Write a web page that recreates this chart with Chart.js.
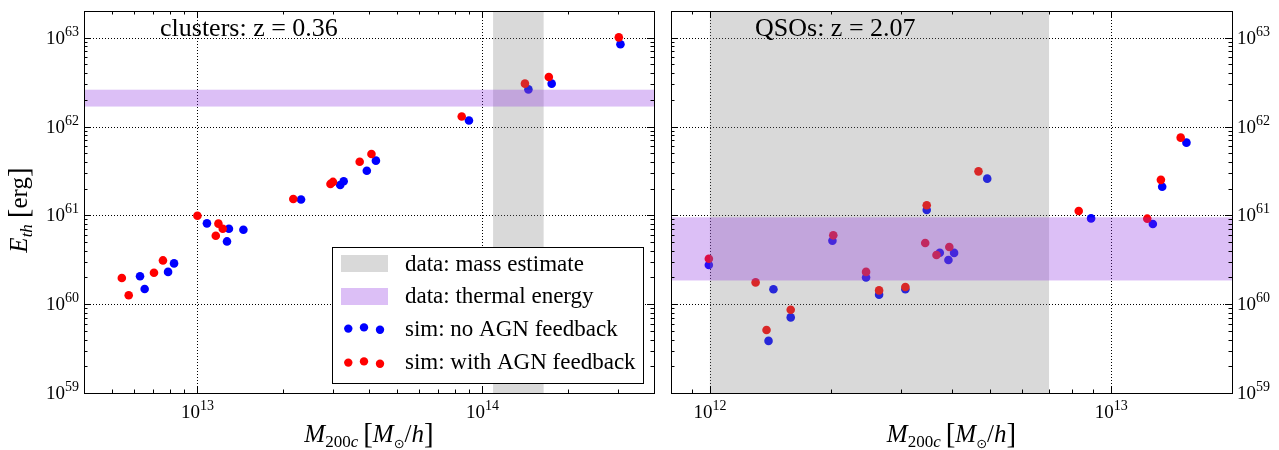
<!DOCTYPE html>
<html lang="en">
<head>
  <meta charset="UTF-8">
  <title>Thermal energy vs halo mass</title>
  <script src="https://cdn.jsdelivr.net/npm/chart.js"></script>
  <style>
    * { margin: 0; padding: 0; box-sizing: border-box; }
    body { background: #ffffff; width: 1279px; height: 450px; overflow: hidden; }
    #clusterChart { position: absolute; left: 0; top: 0; }
    #qsoChart { position: absolute; left: 660px; top: 0; }
  </style>
</head>
<body>
  <canvas id="clusterChart" width="660" height="450"></canvas>
  <canvas id="qsoChart" width="619" height="450"></canvas>

  <script>
    // clusters, z = 0.36
    const clusterMassAgn = [5.43e12, 5.74e12, 7.04e12, 7.57e12, 1.0e13, 1.185e13, 1.16e13, 1.227e13, 2.17e13, 2.93e13, 2.99e13, 3.71e13, 4.08e13, 8.46e13, 1.41e14, 1.71e14, 3.01e14];
    const clusterEnergyAgn = [1.97e60, 1.26e60, 2.26e60, 3.11e60, 9.9e60, 8.07e60, 5.9e60, 7.08e60, 1.53e61, 2.26e61, 2.38e61, 4.02e61, 4.91e61, 1.30e62, 3.04e62, 3.62e62, 1.01e63];
    const clusterMassNoAgn = [6.29e12, 6.53e12, 7.89e12, 8.28e12, 1.08e13, 1.29e13, 1.27e13, 1.45e13, 2.31e13, 3.17e13, 3.26e13, 3.93e13, 4.23e13, 8.97e13, 1.45e14, 1.75e14, 3.05e14];
    const clusterEnergyNoAgn = [2.06e60, 1.48e60, 2.31e60, 2.88e60, 8.13e60, 7.08e60, 5.09e60, 6.9e60, 1.51e61, 2.2e61, 2.42e61, 3.18e61, 4.13e61, 1.17e62, 2.62e62, 3.04e62, 8.44e62];
    const clusterMassBand = [1.09e14, 1.64e14];
    const clusterEnergyBand = [1.68e62, 2.6e62];
    const clusterMassRange = [4e12, 4e14];

    // QSOs, z = 2.07
    const qsoMassAgn = [0.994e12, 1.30e12, 1.384e12, 1.59e12, 2.03e12, 2.45e12, 2.64e12, 3.07e12, 3.47e12, 3.44e12, 3.67e12, 3.95e12, 4.67e12, 8.3e12, 1.23e13, 1.33e13, 1.49e13];
    const qsoEnergyAgn = [3.25e60, 1.76e60, 5.12e59, 8.67e59, 5.96e60, 2.31e60, 1.43e60, 1.56e60, 1.30e61, 4.89e60, 3.58e60, 4.41e60, 3.13e61, 1.12e61, 9.18e60, 2.51e61, 7.5e61];
    const qsoMassNoAgn = [0.994e12, 1.44e12, 1.40e12, 1.59e12, 2.02e12, 2.45e12, 2.64e12, 3.07e12, 3.47e12, 3.74e12, 3.93e12, 4.06e12, 4.91e12, 8.91e12, 1.27e13, 1.34e13, 1.54e13];
    const qsoEnergyNoAgn = [2.76e60, 1.47e60, 3.86e59, 7.1e59, 5.19e60, 2.0e60, 1.28e60, 1.47e60, 1.15e61, 3.8e60, 3.15e60, 3.78e60, 2.59e61, 9.25e60, 8.0e60, 2.10e61, 6.59e61];
    const qsoMassBand = [1e12, 7e12];
    const qsoEnergyBand = [1.85e60, 9.5e60];
    const qsoMassRange = [8e11, 2e13];

    const energyRange = [1e59, 2e63];
    const legendLabels = ['data: mass estimate', 'data: thermal energy', 'sim: no AGN feedback', 'sim: with AGN feedback'];

    const SERIF = '"Liberation Serif", "DejaVu Serif", serif';

    function toPoints(xs, ys) {
      return xs.map((x, i) => ({ x: x, y: ys[i] }));
    }

    function richWidth(ctx, parts) {
      let w = 0;
      parts.forEach(p => { ctx.font = p.font; w += ctx.measureText(p.t).width + (p.gap || 0); });
      return w;
    }

    function drawRich(ctx, parts, x, y, align) {
      const w = richWidth(ctx, parts);
      let cx = align === 'center' ? x - w / 2 : (align === 'right' ? x - w : x);
      ctx.textAlign = 'left';
      ctx.textBaseline = 'alphabetic';
      parts.forEach(p => {
        ctx.font = p.font;
        ctx.fillText(p.t, cx, y + (p.dy || 0));
        cx += ctx.measureText(p.t).width + (p.gap || 0);
      });
    }

    function powParts(e) {
      return [
        { t: '10', font: '19px ' + SERIF },
        { t: String(e), font: '14px ' + SERIF, dy: -8 }
      ];
    }

    function logTicks(min, max) {
      const major = [], minor = [];
      for (let e = Math.floor(Math.log10(min)); e <= Math.ceil(Math.log10(max)); e++) {
        for (let k = 1; k < 10; k++) {
          const v = k * Math.pow(10, e);
          if (v < min * 0.9999 || v > max * 1.0001) continue;
          if (k === 1) major.push(e); else minor.push(v);
        }
      }
      return { major, minor };
    }

    function panelPlugin(opts) {
      return {
        id: 'panel',
        beforeDatasetsDraw(chart) {
          const ctx = chart.ctx, a = chart.chartArea;
          const xs = chart.scales.x, ys = chart.scales.y;
          ctx.save();
          ctx.strokeStyle = '#000';
          ctx.lineWidth = 1;
          ctx.setLineDash([1, 2]);
          logTicks(xs.min, xs.max).major.forEach(e => {
            const px = Math.round(xs.getPixelForValue(Math.pow(10, e))) + 0.5;
            ctx.beginPath(); ctx.moveTo(px, a.top); ctx.lineTo(px, a.bottom); ctx.stroke();
          });
          logTicks(ys.min, ys.max).major.forEach(e => {
            const py = Math.round(ys.getPixelForValue(Math.pow(10, e))) + 0.5;
            ctx.beginPath(); ctx.moveTo(a.left, py); ctx.lineTo(a.right, py); ctx.stroke();
          });
          ctx.restore();
        },
        afterDatasetsDraw(chart) {
          const ctx = chart.ctx, a = chart.chartArea;
          const xs = chart.scales.x, ys = chart.scales.y;
          ctx.save();
          ctx.beginPath(); ctx.rect(a.left, a.top, a.right - a.left, a.bottom - a.top); ctx.clip();
          const x0 = xs.getPixelForValue(opts.massBand[0]), x1 = xs.getPixelForValue(opts.massBand[1]);
          ctx.fillStyle = 'rgba(128,128,128,0.3)';
          ctx.fillRect(x0, a.top, x1 - x0, a.bottom - a.top);
          const y0 = ys.getPixelForValue(opts.energyBand[1]), y1 = ys.getPixelForValue(opts.energyBand[0]);
          ctx.fillStyle = 'rgba(138,43,226,0.3)';
          ctx.fillRect(a.left, y0, a.right - a.left, y1 - y0);
          ctx.restore();
        },
        afterDraw(chart) {
          const ctx = chart.ctx, a = chart.chartArea;
          const xs = chart.scales.x, ys = chart.scales.y;
          ctx.save();
          ctx.fillStyle = '#000';
          ctx.strokeStyle = '#000';
          ctx.lineWidth = 1;
          // frame
          ctx.strokeRect(Math.round(a.left) + 0.5, Math.round(a.top) + 0.5, Math.round(a.right - a.left), Math.round(a.bottom - a.top));
          // ticks, inward on all four sides
          const xt = logTicks(xs.min, xs.max);
          ctx.beginPath();
          xt.major.forEach(e => {
            const px = Math.round(xs.getPixelForValue(Math.pow(10, e))) + 0.5;
            ctx.moveTo(px, a.bottom); ctx.lineTo(px, a.bottom - 7);
            ctx.moveTo(px, a.top); ctx.lineTo(px, a.top + 7);
          });
          xt.minor.forEach(v => {
            const px = Math.round(xs.getPixelForValue(v)) + 0.5;
            ctx.moveTo(px, a.bottom); ctx.lineTo(px, a.bottom - 3.5);
            ctx.moveTo(px, a.top); ctx.lineTo(px, a.top + 3.5);
          });
          const yt = logTicks(ys.min, ys.max);
          yt.major.forEach(e => {
            const py = Math.round(ys.getPixelForValue(Math.pow(10, e))) + 0.5;
            ctx.moveTo(a.left, py); ctx.lineTo(a.left + 7, py);
            ctx.moveTo(a.right, py); ctx.lineTo(a.right - 7, py);
          });
          yt.minor.forEach(v => {
            const py = Math.round(ys.getPixelForValue(v)) + 0.5;
            ctx.moveTo(a.left, py); ctx.lineTo(a.left + 3.5, py);
            ctx.moveTo(a.right, py); ctx.lineTo(a.right - 3.5, py);
          });
          ctx.stroke();

          // tick labels
          xt.major.forEach(e => {
            drawRich(ctx, powParts(e), xs.getPixelForValue(Math.pow(10, e)), a.bottom + 25, 'center');
          });
          yt.major.forEach(e => {
            const py = ys.getPixelForValue(Math.pow(10, e)) + 6;
            if (opts.yLabelsRight) drawRich(ctx, powParts(e), a.right + 5, py, 'left');
            else drawRich(ctx, powParts(e), a.left - 5, py, 'right');
          });

          // x axis title
          const it = 'italic 25px ' + SERIF, rm = '25px ' + SERIF;
          drawRich(ctx, [
            { t: 'M', font: it },
            { t: '200', font: '17px ' + SERIF, dy: 5 },
            { t: 'c', font: 'italic 17px ' + SERIF, dy: 5, gap: 5 },
            { t: '[', font: '29px ' + SERIF, dy: 1 },
            { t: 'M', font: it },
            { t: '\u2299', font: '13px "DejaVu Sans"', dy: 6 },
            { t: '/', font: rm },
            { t: 'h', font: it },
            { t: ']', font: '29px ' + SERIF, dy: 1 }
          ], (a.left + a.right) / 2, 442, 'center');

          // y axis title
          if (opts.yTitle) {
            ctx.save();
            ctx.translate(27, 210);
            ctx.rotate(-Math.PI / 2);
            drawRich(ctx, [
              { t: 'E', font: it },
              { t: 'th', font: 'italic 17px ' + SERIF, dy: 5, gap: 6 },
              { t: '[', font: '29px ' + SERIF, dy: 1 },
              { t: 'erg', font: rm },
              { t: ']', font: '29px ' + SERIF, dy: 1 }
            ], 0, 0, 'center');
            ctx.restore();
          }

          // panel title
          ctx.font = '26px ' + SERIF;
          ctx.textAlign = 'left';
          ctx.fillText(opts.title, opts.titleX, 36);

          if (opts.legend) drawLegend(ctx);
          ctx.restore();
        }
      };
    }

    function drawLegend(ctx) {
      ctx.save();
      ctx.fillStyle = '#ffffff';
      ctx.fillRect(332, 247, 311, 136);
      ctx.strokeStyle = '#000';
      ctx.lineWidth = 1;
      ctx.strokeRect(332.5, 247.5, 311, 136);
      ctx.fillStyle = '#d9d9d9';
      ctx.fillRect(341, 255, 47, 17);
      ctx.fillStyle = '#dcbff6';
      ctx.fillRect(341, 288, 47, 17);
      const dotX = [348.3, 364, 380];
      const dotDy = [1, -1, 3];
      [['#0000ff', 328], ['#ff0000', 362]].forEach(([c, cy]) => {
        ctx.fillStyle = c;
        dotX.forEach((x, i) => {
          ctx.beginPath(); ctx.arc(x, cy + dotDy[i] * 0.6, 4.2, 0, Math.PI * 2); ctx.fill();
        });
      });
      ctx.fillStyle = '#000';
      ctx.font = '23px ' + SERIF;
      ctx.textAlign = 'left';
      ctx.textBaseline = 'alphabetic';
      const baselines = [271, 303, 336, 369];
      legendLabels.forEach((t, i) => ctx.fillText(t, 405, baselines[i]));
      ctx.restore();
    }

    function makeChart(id, d) {
      return new Chart(document.getElementById(id), {
        type: 'scatter',
        data: {
          datasets: [
            {
              label: legendLabels[3],
              data: toPoints(d.massAgn, d.energyAgn),
              backgroundColor: '#ff0000',
              pointRadius: 4.3,
              pointBorderWidth: 0,
              order: 0
            },
            {
              label: legendLabels[2],
              data: toPoints(d.massNoAgn, d.energyNoAgn),
              backgroundColor: '#0000ff',
              pointRadius: 4.3,
              pointBorderWidth: 0,
              order: 1
            }
          ]
        },
        options: {
          responsive: false,
          animation: false,
          events: [],
          layout: { padding: d.padding },
          plugins: { legend: { display: false }, tooltip: { enabled: false } },
          scales: {
            x: { type: 'logarithmic', display: false, bounds: 'data', min: d.massRange[0], max: d.massRange[1] },
            y: { type: 'logarithmic', display: false, bounds: 'data', min: energyRange[0], max: energyRange[1] }
          }
        },
        plugins: [panelPlugin(d)]
      });
    }

    makeChart('clusterChart', {
      massAgn: clusterMassAgn, energyAgn: clusterEnergyAgn,
      massNoAgn: clusterMassNoAgn, energyNoAgn: clusterEnergyNoAgn,
      massBand: clusterMassBand, energyBand: clusterEnergyBand,
      massRange: clusterMassRange,
      padding: { left: 84, right: 6, top: 11, bottom: 57 },
      title: 'clusters: z = 0.36', titleX: 160,
      yTitle: true, yLabelsRight: false, legend: true
    });

    makeChart('qsoChart', {
      massAgn: qsoMassAgn, energyAgn: qsoEnergyAgn,
      massNoAgn: qsoMassNoAgn, energyNoAgn: qsoEnergyNoAgn,
      massBand: qsoMassBand, energyBand: qsoEnergyBand,
      massRange: qsoMassRange,
      padding: { left: 11, right: 47, top: 11, bottom: 57 },
      title: 'QSOs: z = 2.07', titleX: 95,
      yTitle: false, yLabelsRight: true, legend: false
    });
  </script>
</body>
</html>
